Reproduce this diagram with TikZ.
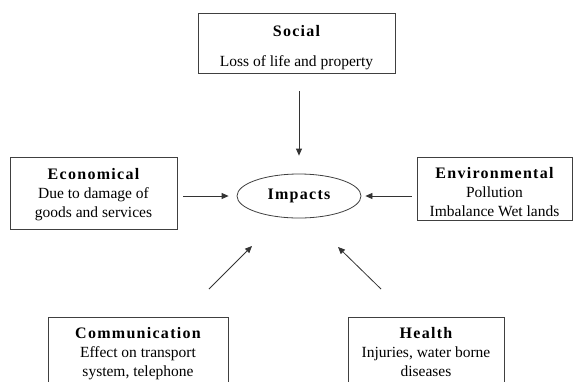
\documentclass[tikz,border=0pt]{standalone}
\usepackage{fontspec}
\setmainfont{Liberation Serif}
\newfontfamily\ttlfont{Liberation Serif}[LetterSpace=8]
\usetikzlibrary{arrows.meta,shapes.geometric}
\newcommand{\ttl}[1]{{\ttlfont\bfseries\fontsize{16}{19}\selectfont #1}}
\begin{document}
\begin{tikzpicture}[x=1pt,y=-1pt,
  frame/.style={draw=black!75, line width=0.8pt, inner sep=0pt},
  txt/.style={align=center, font=\fontsize{15.5}{19}\selectfont, inner sep=0pt},
  arr/.style={draw=black!80, line width=0.8pt, -{Triangle[length=7pt,width=6pt]}}]
\useasboundingbox (0,0) rectangle (576,381);
\clip (0,0) rectangle (576,381);
% boxes
\node[frame, minimum width=197, minimum height=60] (social) at (296.5,43) {};
\node[frame, minimum width=167, minimum height=72] (econ) at (93.5,193) {};
\node[frame, minimum width=155, minimum height=63] (env) at (494.5,188.5) {};
\node[frame, minimum width=180, minimum height=90, anchor=north] (comm) at (138,317) {};
\node[frame, minimum width=156, minimum height=90, anchor=north] (health) at (426,317) {};
\node[ellipse, draw=black!75, line width=0.8pt, minimum width=124, minimum height=44, inner sep=0pt] (impacts) at (299,196) {\ttl{Impacts}};
% texts
\node[txt] (socialtext) at (296.5,47.5) {\ttl{Social}\\[11pt]Loss of life and property};
\node[txt] (econtext) at (93.5,194.6) {\ttl{Economical}\\Due to damage of\\goods and services};
\node[txt] (envtext) at (494.5,192.5) {\ttl{Environmental}\\Pollution\\Imbalance Wet lands};
\node[txt, anchor=north] (commtext) at (138,327) {\ttl{Communication}\\Effect on transport\\system, telephone};
\node[txt, anchor=north] (healthtext) at (426,327) {\ttl{Health}\\Injuries, water borne\\diseases};
% connectors
\coordinate (c1) at (209,289);
\coordinate (c2) at (252,246);
\coordinate (h1) at (381,289);
\coordinate (h2) at (338,247);
\draw[arr, shorten <=18pt, shorten >=18pt] (social.south -| impacts.north) -- (impacts.north);
\draw[arr, shorten <=6pt, shorten >=8pt] (econ.east |- impacts.west) -- (impacts.west);
\draw[arr, shorten <=5pt, shorten >=4pt] (env.west |- impacts.east) -- (impacts.east);
\draw[arr] (c1) -- (c2);
\draw[arr] (h1) -- (h2);
\end{tikzpicture}
\end{document}
